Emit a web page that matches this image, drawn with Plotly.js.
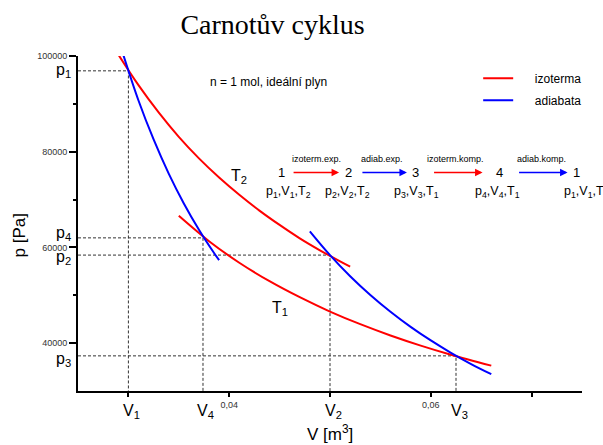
<!DOCTYPE html>
<html>
<head>
<meta charset="utf-8">
<script src="https://cdn.plot.ly/plotly-3.0.1.min.js"></script>
<style>html,body{margin:0;padding:0;background:#fff;}#chart{width:603px;height:445px;}</style>
</head>
<body>
<div id="chart"></div>
<script>
// Isotherm T2 (1 -> 2)
const isoT2V = [0.029, 0.031, 0.033, 0.035, 0.037, 0.039, 0.041, 0.043, 0.045, 0.047, 0.049, 0.051, 0.052];
const isoT2P = [100300, 93900, 88200, 83100, 78600, 74600, 71000, 67700, 64700, 61900, 59400, 57100, 56000];
// Isotherm T1 (3 -> 4)
const isoT1V = [0.035, 0.038, 0.041, 0.044, 0.047, 0.050, 0.053, 0.056, 0.059, 0.062, 0.066];
const isoT1P = [66600, 61300, 56800, 52950, 49600, 46600, 43960, 41610, 39490, 37580, 35300];
// Adiabat 4 -> 1
const adiAV = [0.0295, 0.031, 0.0325, 0.034, 0.0355, 0.037, 0.0385, 0.039];
const adiAP = [100200, 90700, 82560, 75430, 69190, 63700, 58830, 57330];
// Adiabat 2 -> 3
const adiBV = [0.048, 0.050, 0.052, 0.054, 0.056, 0.058, 0.060, 0.062, 0.064, 0.066];
const adiBP = [63370, 58400, 53990, 50070, 46560, 43400, 40560, 37980, 35640, 33520];
// States 1..4
const stateNames = ['1', '2', '3', '4'];
const stateV = [0.030, 0.050, 0.0625, 0.0374];
const stateP = [96900, 58400, 37340, 62000];
// Axes
const xTickVals = [0.03, 0.04, 0.05, 0.06, 0.07];
const xTickText = ['', '0,04', '', '0,06', ''];
const yTickVals = [40000, 60000, 80000, 100000];
const yTickText = ['40000', '60000', '80000', '100000'];
const yMinorVals = [50000, 70000, 90000];
const xMin = 0.025, xMax = 0.075, yMin = 30000, yMax = 100000;

const RED = '#ff0000', BLUE = '#0000ff';
const traces = [];
// guide lines
for (let i = 0; i < stateV.length; i++) {
  traces.push({x: [xMin, stateV[i], stateV[i]], y: [stateP[i], stateP[i], yMin], mode: 'lines',
    line: {color: '#333', width: 1, dash: '3px,2px'}, showlegend: false, hoverinfo: 'skip'});
}
const NB = '\u00a0\u00a0\u00a0\u00a0\u00a0';
traces.push({x: isoT2V, y: isoT2P, mode: 'lines', name: NB + 'izoterma', line: {color: RED, width: 2, shape: 'spline'}, legendgroup: 'a'});
traces.push({x: isoT1V, y: isoT1P, mode: 'lines', name: 'izoterma', line: {color: RED, width: 2, shape: 'spline'}, showlegend: false});
traces.push({x: adiAV, y: adiAP, mode: 'lines', name: NB + 'adiabata', line: {color: BLUE, width: 2, shape: 'spline'}, legendgroup: 'b'});
traces.push({x: adiBV, y: adiBP, mode: 'lines', name: 'adiabata', line: {color: BLUE, width: 2, shape: 'spline'}, showlegend: false});

const F = 'Arial, "Liberation Sans", sans-serif';
const ann = [];
function txt(x, y, text, size, opts) {
  ann.push(Object.assign({x: x, y: y, xref: 'paper', yref: 'paper', text: text, showarrow: false,
    xanchor: 'center', yanchor: 'middle', font: {family: F, size: size, color: '#000'}}, opts || {}));
}
// p and V labels
const pShift = [0, -2, -4, 4];
for (let i = 0; i < stateP.length; i++) {
  ann.push({x: -0.028, y: stateP[i], xref: 'paper', yref: 'y', text: 'p<sub>' + stateNames[i] + '</sub>',
    showarrow: false, xanchor: 'center', yanchor: 'middle', yshift: pShift[i], font: {family: F, size: 16, color: '#000'}});
  ann.push({x: stateV[i], y: -0.06, xref: 'x', yref: 'paper', text: 'V<sub>' + stateNames[i] + '</sub>',
    showarrow: false, xanchor: 'center', yanchor: 'middle', xshift: 3, font: {family: F, size: 16, color: '#000'}});
}
// axis titles
txt(-0.117, 0.4646, 'p [Pa]', 17, {textangle: -90});
txt(0.5, -0.125, 'V [m<sup>3</sup>]', 17);
// info text
txt(0.2575, 0.921, 'n = 1 mol, ideální plyn', 12, {xanchor: 'left'});
// curve labels
txt(0.3196, 0.639, 'T<sub>2</sub>', 16);
txt(0.401, 0.245, 'T<sub>1</sub>', 16);
// cycle diagram
const numX = [0.4030, 0.5360, 0.6690, 0.8358, 0.9881];
const numT = ['1', '2', '3', '4', '1'];
numT.forEach((t, i) => txt(numX[i], 0.652, t, 13));
const upX = [0.4739, 0.6035, 0.7499, 0.9192];
const upT = ['izoterm.exp.', 'adiab.exp.', 'izoterm.komp.', 'adiab.komp.'];
upT.forEach((t, i) => txt(upX[i], 0.6932, t, 9));
const lowX = [0.4169, 0.5350, 0.6710, 0.8318, 1.0];
const lowT = ['p<sub>1</sub>,V<sub>1</sub>,T<sub>2</sub>', 'p<sub>2</sub>,V<sub>2</sub>,T<sub>2</sub>',
  'p<sub>3</sub>,V<sub>3</sub>,T<sub>1</sub>', 'p<sub>4</sub>,V<sub>4</sub>,T<sub>1</sub>', 'p<sub>1</sub>,V<sub>1</sub>,T<sub>2</sub>'];
lowT.forEach((t, i) => txt(lowX[i], 0.595, t, 12.5, i === 4 ? {xanchor: 'left', x: (562 - 78) / 504} : {}));
const arrHead = [0.518, 0.6526, 0.8027, 0.9714];
const arrLen = [47, 46, 50, 50];
const arrCol = [RED, BLUE, RED, BLUE];
arrHead.forEach((h, i) => ann.push({x: h, y: 0.652, xref: 'paper', yref: 'paper', ax: -arrLen[i], ay: 0,
  text: '', showarrow: true, arrowhead: 2, arrowsize: 1, arrowwidth: 1.5, arrowcolor: arrCol[i]}));

const layout = {
  width: 603, height: 445,
  margin: {l: 78, r: 21, t: 56, b: 54},
  paper_bgcolor: '#fff', plot_bgcolor: '#fff',
  title: {text: 'Carnotův cyklus', x: 0.452, xanchor: 'center', y: 0.923, yanchor: 'bottom',
    font: {family: '"Liberation Serif", "Times New Roman", serif', size: 28, color: '#000'}},
  xaxis: {range: [xMin, xMax], showgrid: false, zeroline: false, showline: true, linecolor: '#000', linewidth: 2,
    tickmode: 'array', tickvals: xTickVals, ticktext: xTickText, ticks: 'outside', ticklen: 4, tickwidth: 2,
    tickcolor: '#000', tickfont: {family: F, size: 9, color: '#333'}},
  yaxis: {range: [yMin, yMax], showgrid: false, zeroline: false, showline: true, linecolor: '#000', linewidth: 2,
    tickmode: 'array', tickvals: yTickVals, ticktext: yTickText, ticks: 'outside', ticklen: 7, tickwidth: 2,
    tickcolor: '#000', tickfont: {family: F, size: 9, color: '#333'},
    minor: {tickmode: 'array', tickvals: yMinorVals, ticks: 'outside', ticklen: 3, tickwidth: 2, tickcolor: '#000'}},
  showlegend: true,
  legend: {x: 0.794, y: 0.977, xanchor: 'left', yanchor: 'top', bgcolor: 'rgba(0,0,0,0)', traceorder: 'grouped',
    tracegroupgap: 3, font: {family: F, size: 12, color: '#000'}},
  annotations: ann
};
Plotly.newPlot('chart', traces, layout, {staticPlot: true});
</script>
</body>
</html>
